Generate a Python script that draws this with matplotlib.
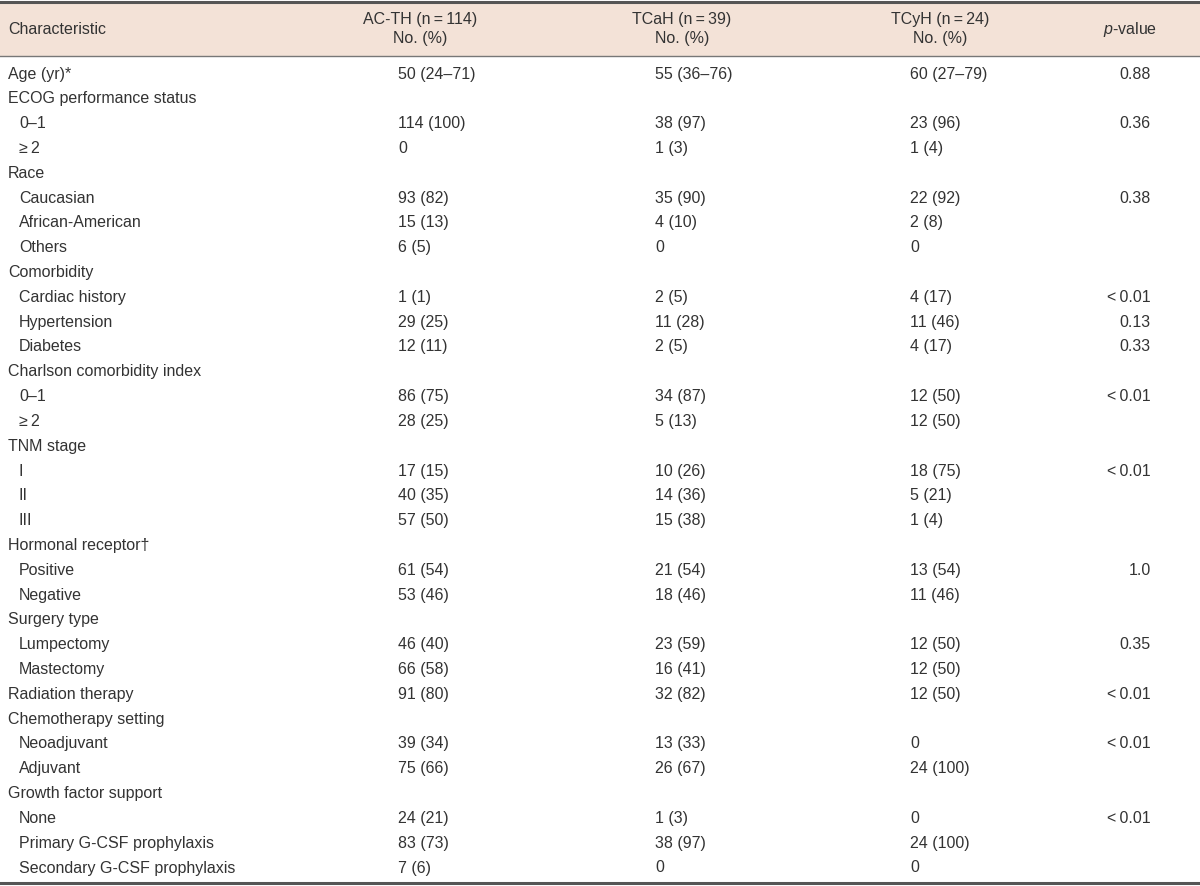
import matplotlib.pyplot as plt
from matplotlib.patches import Rectangle

plt.rcParams['font.family'] = ['Liberation Sans', 'DejaVu Sans']
plt.rcParams['mathtext.fontset'] = 'custom'
plt.rcParams['mathtext.it'] = 'Liberation Sans:italic'
plt.rcParams['mathtext.rm'] = 'Liberation Sans'

# table content
headers = ['Characteristic', 'AC-TH (n\u2009=\u2009114)\nNo. (%)', 'TCaH (n\u2009=\u200939)\nNo. (%)',
           'TCyH (n\u2009=\u200924)\nNo. (%)', r'$\it{p}$-value']

labels = ['Age (yr)*', 'ECOG performance status', '0\u20131', '\u2265\u20092',
          'Race', 'Caucasian', 'African-American', 'Others',
          'Comorbidity', 'Cardiac history', 'Hypertension', 'Diabetes',
          'Charlson comorbidity index', '0\u20131', '\u2265\u20092',
          'TNM stage', 'I', 'II', 'III',
          'Hormonal receptor\u2020', 'Positive', 'Negative',
          'Surgery type', 'Lumpectomy', 'Mastectomy',
          'Radiation therapy',
          'Chemotherapy setting', 'Neoadjuvant', 'Adjuvant',
          'Growth factor support', 'None', 'Primary G-CSF prophylaxis', 'Secondary G-CSF prophylaxis']
indent = [0, 0, 1, 1,
          0, 1, 1, 1,
          0, 1, 1, 1,
          0, 1, 1,
          0, 1, 1, 1,
          0, 1, 1,
          0, 1, 1,
          0,
          0, 1, 1,
          0, 1, 1, 1]
acth = ['50 (24\u201371)', '', '114 (100)', '0',
        '', '93 (82)', '15 (13)', '6 (5)',
        '', '1 (1)', '29 (25)', '12 (11)',
        '', '86 (75)', '28 (25)',
        '', '17 (15)', '40 (35)', '57 (50)',
        '', '61 (54)', '53 (46)',
        '', '46 (40)', '66 (58)',
        '91 (80)',
        '', '39 (34)', '75 (66)',
        '', '24 (21)', '83 (73)', '7 (6)']
tcah = ['55 (36\u201376)', '', '38 (97)', '1 (3)',
        '', '35 (90)', '4 (10)', '0',
        '', '2 (5)', '11 (28)', '2 (5)',
        '', '34 (87)', '5 (13)',
        '', '10 (26)', '14 (36)', '15 (38)',
        '', '21 (54)', '18 (46)',
        '', '23 (59)', '16 (41)',
        '32 (82)',
        '', '13 (33)', '26 (67)',
        '', '1 (3)', '38 (97)', '0']
tcyh = ['60 (27\u201379)', '', '23 (96)', '1 (4)',
        '', '22 (92)', '2 (8)', '0',
        '', '4 (17)', '11 (46)', '4 (17)',
        '', '12 (50)', '12 (50)',
        '', '18 (75)', '5 (21)', '1 (4)',
        '', '13 (54)', '11 (46)',
        '', '12 (50)', '12 (50)',
        '12 (50)',
        '', '0', '24 (100)',
        '', '0', '24 (100)', '0']
pvals = ['0.88', '', '0.36', '',
         '', '0.38', '', '',
         '', '<\u20090.01', '0.13', '0.33',
         '', '<\u20090.01', '',
         '', '<\u20090.01', '', '',
         '', '1.0', '',
         '', '0.35', '',
         '<\u20090.01',
         '', '<\u20090.01', '',
         '', '<\u20090.01', '', '']

W, H = 1200, 886
fig = plt.figure(figsize=(W / 100, H / 100), dpi=100)
ax = fig.add_axes([0, 0, 1, 1])
ax.set_xlim(0, W)
ax.set_ylim(H, 0)
ax.axis('off')

txt = '#333333'
fs = 11.5

# header band
ax.add_patch(Rectangle((0, 2), W, 54, facecolor='#f3e2d7', edgecolor='none'))
ax.plot([0, W], [1.5, 1.5], color='#555555', lw=2.2)
ax.plot([0, W], [56, 56], color='#777777', lw=1.0)
ax.plot([0, W], [883, 883], color='#555555', lw=2.2)

hx = [8, 420, 682, 940, 1130]
ax.text(hx[0], 29, headers[0], ha='left', va='center', fontsize=fs, color=txt)
for x, h in zip(hx[1:4], headers[1:4]):
    ax.text(x, 29, h, ha='center', va='center', fontsize=fs, color=txt, linespacing=1.35)
ax.text(hx[4], 29, headers[4], ha='center', va='center', fontsize=fs, color=txt)

y0 = 74
step = (868 - 74) / (len(labels) - 1)
col_x = [398, 655, 910]
for i, lab in enumerate(labels):
    y = y0 + i * step
    ax.text(8 + 11 * indent[i], y, lab, ha='left', va='center', fontsize=fs, color=txt)
    for x, col in zip(col_x, [acth, tcah, tcyh]):
        ax.text(x, y, col[i], ha='left', va='center', fontsize=fs, color=txt)
    ax.text(1151, y, pvals[i], ha='right', va='center', fontsize=fs, color=txt)

fig.savefig('out.png', dpi=100)
